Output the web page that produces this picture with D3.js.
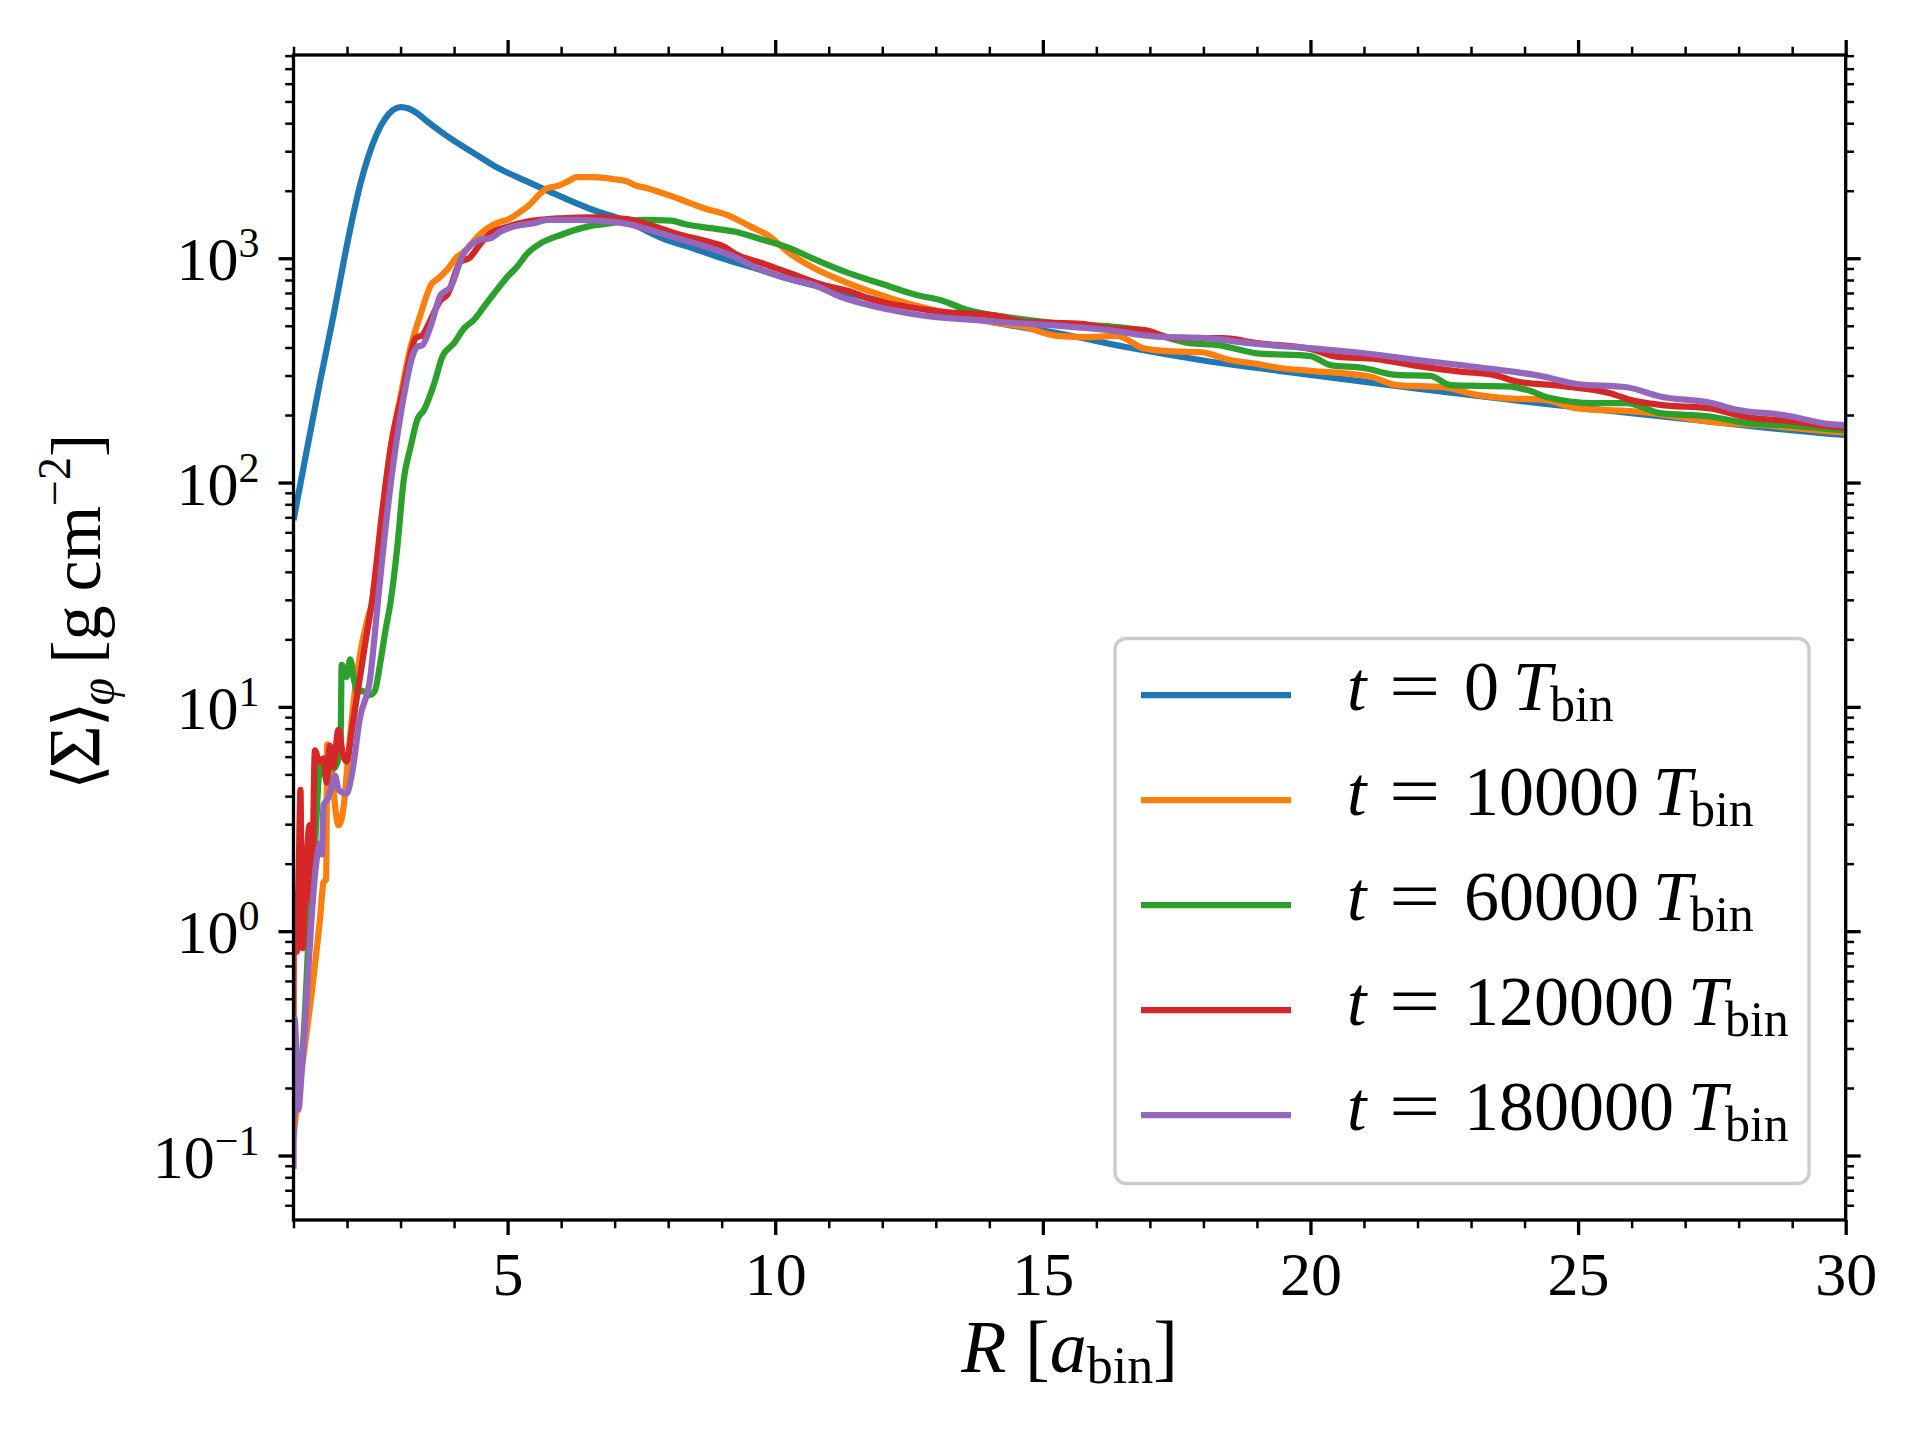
<!DOCTYPE html>
<html><head><meta charset="utf-8">
<script src="https://cdn.jsdelivr.net/npm/d3@7"></script>
<style>
body{margin:0;background:#fff}
text{font-family:"Liberation Serif","DejaVu Serif",serif;white-space:pre;fill:#000}
</style>
</head><body>
<svg id="chart" width="1920" height="1440"></svg>
<script>
// ---------------- data (R in a_bin, <Sigma> in g cm^-2) ----------------
const seriesLabels = ["0", "10000", "60000", "120000", "180000"];
const seriesColors = ["#1f77b4", "#ff7f0e", "#2ca02c", "#d62728", "#9467bd"];

const t0 = [[1.0,68],[1.25,140],[1.5,285],[1.75,560],[1.95,1000],[2.1,1500],[2.25,2150],[2.4,2850],[2.55,3550],[2.7,4150],[2.86,4580],[3.0,4720],[3.15,4650],[3.3,4450],[3.5,4070],[3.8,3600],[4.12,3200],[4.45,2860],[4.75,2580],[5.36,2200],[6.0,1880],[6.6,1640],[7.23,1460],[7.86,1237],[8.5,1100],[9.1,985],[9.7,890],[10.28,805],[11.0,730],[11.8,660],[12.89,589],[14.33,505],[15.26,464],[16.5,404],[18.0,350],[20.0,302],[22.0,262],[24.35,225],[27.0,192],[29.71,165],[30,163]];

const t10000 = [[1.0,0.12],[1.1,0.2],[1.21,0.306],[1.37,0.61],[1.5,1.17],[1.56,1.65],[1.61,1.7],[1.63,6.8],[1.68,6.6],[1.74,4.45],[1.84,2.97],[1.93,3.49],[2.02,5.9],[2.12,10.4],[2.24,17],[2.4,25.5],[2.5,31],[2.66,73],[2.82,145],[3.0,242],[3.16,377],[3.38,569],[3.59,774],[3.67,800],[3.87,887],[4.06,1017],[4.19,1070],[4.47,1270],[4.62,1361],[4.87,1456],[4.99,1482],[5.24,1614],[5.37,1698],[5.62,1950],[5.74,2051],[5.93,2100],[6.12,2197],[6.3,2297],[6.61,2297],[6.99,2250],[7.24,2197],[7.36,2123],[7.61,2051],[8.17,1850],[8.67,1671],[9.1,1560],[9.54,1383],[9.85,1270],[10.3,1040],[10.73,902],[11.21,800],[12.15,663],[13.08,578],[14.01,522],[14.64,495],[15.26,451],[15.88,445],[16.38,451],[16.88,397],[17.44,384],[17.94,381],[18.5,352],[19.0,338],[19.43,324],[20.0,315],[21.11,297],[21.61,272],[22.48,266],[23.11,246],[23.6,238],[24.35,234],[24.98,214],[26.22,206],[27.47,187],[28.71,178],[29.71,169],[30,167]];

const t60000 = [[1.0,0.35],[1.08,0.22],[1.18,0.32],[1.31,1.26],[1.4,2.4],[1.5,5.5],[1.58,5.0],[1.66,6.0],[1.75,5.3],[1.85,6.0],[1.88,7.0],[1.9,15.4],[1.99,13.6],[2.06,16.3],[2.13,13.2],[2.2,11.6],[2.27,11.8],[2.43,11.3],[2.52,11.8],[2.62,15.7],[2.72,22],[2.82,30],[2.94,51.8],[3.06,103],[3.19,145],[3.31,190],[3.44,211],[3.63,277],[3.78,364],[4.0,418],[4.19,488],[4.37,531],[4.56,608],[4.75,698],[5.0,828],[5.18,918],[5.37,1052],[5.62,1167],[5.99,1270],[6.49,1383],[6.93,1432],[7.55,1482],[8.05,1472],[8.3,1422],[8.8,1361],[9.23,1315],[9.73,1216],[10.25,1115],[10.73,990],[11.21,887],[12.15,747],[12.64,686],[13.08,651],[13.58,589],[14.33,546],[15.26,513],[16.32,495],[16.82,479],[17.75,418],[18.25,411],[19.0,377],[20.0,366],[20.37,334],[20.99,324],[21.61,302],[22.24,299],[22.61,272],[23.73,268],[24.04,259],[24.48,238],[25.29,226],[25.91,226],[26.53,204],[27.47,197],[28.09,185],[29.02,179],[29.71,173],[30,171]];

const t120000 = [[1.0,0.4],[1.01,1.45],[1.03,1.43],[1.06,0.81],[1.1,2.0],[1.13,4.27],[1.15,1.5],[1.17,0.84],[1.23,1.75],[1.3,2.97],[1.34,1.32],[1.4,6.4],[1.48,5.7],[1.56,5.9],[1.62,4.6],[1.68,6.7],[1.74,5.4],[1.84,7.9],[1.92,6.2],[1.99,5.7],[2.1,8.2],[2.18,10.9],[2.34,19.2],[2.47,30],[2.66,75],[2.82,145],[3.06,267],[3.19,377],[3.28,440],[3.41,455],[3.56,531],[3.75,651],[3.87,686],[4.12,966],[4.28,1000],[4.5,1167],[4.68,1292],[5.0,1383],[5.37,1456],[5.99,1507],[6.61,1523],[7.24,1493],[7.55,1432],[8.17,1283],[8.8,1174],[9.04,1127],[9.29,1035],[9.73,955],[10.28,857],[10.9,760],[11.4,710],[11.83,651],[12.46,608],[13.08,578],[14.14,553],[14.64,522],[15.76,509],[16.19,488],[16.88,479],[17.44,440],[18.37,440],[19.0,418],[20.0,394],[20.49,364],[21.24,355],[21.99,331],[22.8,312],[23.42,302],[23.86,282],[24.67,270],[25.6,250],[25.97,234],[26.53,222],[27.47,214],[28.09,197],[29.02,187],[29.71,178],[30,176]];

const t180000 = [[1.0,0.087],[1.02,0.41],[1.05,0.3],[1.09,0.16],[1.15,0.23],[1.25,0.52],[1.34,1.17],[1.43,2.06],[1.5,2.47],[1.53,2.2],[1.56,3.63],[1.65,3.94],[1.78,4.92],[1.84,4.28],[1.99,4.1],[2.09,5.0],[2.24,8.9],[2.43,13.3],[2.58,30],[2.75,73],[2.91,145],[3.06,242],[3.22,364],[3.31,403],[3.41,410],[3.56,495],[3.75,686],[3.94,747],[4.15,1017],[4.47,1207],[4.68,1227],[4.87,1315],[5.15,1393],[5.49,1432],[5.74,1482],[6.3,1482],[6.93,1456],[7.24,1422],[7.55,1361],[8.17,1227],[8.8,1109],[9.23,1017],[9.6,918],[10.28,806],[10.73,760],[11.21,674],[12.15,589],[12.89,550],[13.51,535],[14.33,517],[15.26,501],[16.19,479],[17.13,447],[18.06,440],[18.87,418],[20.0,397],[20.93,379],[21.86,355],[23.11,327],[24.35,297],[24.98,275],[25.91,266],[26.53,242],[27.47,227],[27.97,211],[28.84,200],[29.71,182],[30,180]];

const xMajorTicks = [5, 10, 15, 20, 25, 30];
const yMajorTicks = [0.1, 1, 10, 100, 1000];
const yTickExponents = ["\u22121", "0", "1", "2", "3"];
const xDomain = [1, 30];
const yDomain = [0.05158, 8054];

// ---------------- layout ----------------
const series = [t0, t10000, t60000, t120000, t180000];
const L = 293.5, R = 1845.7, T = 55, B = 1220;
const svg = d3.select("#chart");
svg.append("rect").attr("width",1920).attr("height",1440).attr("fill","#fff");

const x = d3.scaleLinear().domain(xDomain).range([L, R]);
const y = d3.scaleLog().domain(yDomain).range([B, T]);

const xMinor = d3.range(1, 31).filter(v => v % 5 !== 0);
const yMinor = [];
for (let e = -2; e <= 3; e++) for (let k = 2; k <= 9; k++) {
  const v = k * Math.pow(10, e);
  if (v >= yDomain[0] && v <= yDomain[1]) yMinor.push(v);
}

function addAxis(gen, tr, vals, size, w) {
  const g = svg.append("g").attr("transform", tr)
    .call(gen.tickValues(vals).tickSize(size).tickFormat(""));
  g.select(".domain").remove();
  g.selectAll("line").attr("stroke", "#000").attr("stroke-width", w);
  return g;
}
const MAJ = 15, MIN = 8.3, MW = 3.3, NW = 2.5;
const gxB = addAxis(d3.axisBottom(x), `translate(0,${B})`, xMajorTicks, MAJ, MW);
addAxis(d3.axisBottom(x), `translate(0,${B})`, xMinor, MIN, NW);
addAxis(d3.axisTop(x), `translate(0,${T})`, xMajorTicks, MAJ, MW);
addAxis(d3.axisTop(x), `translate(0,${T})`, xMinor, MIN, NW);
const gyL = addAxis(d3.axisLeft(y), `translate(${L},0)`, yMajorTicks, MAJ, MW);
addAxis(d3.axisLeft(y), `translate(${L},0)`, yMinor, MIN, NW);
addAxis(d3.axisRight(y), `translate(${R},0)`, yMajorTicks, MAJ, MW);
addAxis(d3.axisRight(y), `translate(${R},0)`, yMinor, MIN, NW);

// x tick labels
gxB.selectAll(".tick").append("text")
  .attr("y", 75).attr("text-anchor", "middle").attr("font-size", 62)
  .text(d => d);

// y tick labels 10^n
gyL.selectAll(".tick").each(function(d, i) {
  const t = d3.select(this).append("text")
    .attr("x", -34).attr("y", 21.7).attr("text-anchor", "end").attr("font-size", 62);
  t.append("tspan").text("10");
  t.append("tspan").attr("font-size", 42).attr("dy", -23).text(yTickExponents[i]);
});

// clip + lines
svg.append("clipPath").attr("id", "clip").append("rect")
  .attr("x", L).attr("y", T).attr("width", R - L).attr("height", B - T);
const line = d3.line().x(d => x(d[0])).y(d => y(d[1])).curve(d3.curveMonotoneX);
const gl = svg.append("g").attr("clip-path", "url(#clip)");
series.forEach((s, i) => {
  gl.append("path").attr("d", line(s)).attr("fill", "none")
    .attr("stroke", seriesColors[i]).attr("stroke-width", 6.25)
    .attr("stroke-linejoin", "round").attr("stroke-linecap", "butt");
});

// spines
svg.append("rect").attr("x", L).attr("y", T).attr("width", R - L).attr("height", B - T)
  .attr("fill", "none").attr("stroke", "#000").attr("stroke-width", 3.3);

// legend
const lg = svg.append("g");
lg.append("rect").attr("x", 1115).attr("y", 638.5).attr("width", 694).attr("height", 545)
  .attr("rx", 11).attr("fill", "#fff").attr("fill-opacity", 0.8)
  .attr("stroke", "#cccccc").attr("stroke-width", 3.3);
seriesLabels.forEach((lab, i) => {
  const cy = 695 + i * 105;
  const by = cy + 15;
  lg.append("line").attr("x1", 1141).attr("x2", 1291).attr("y1", cy).attr("y2", cy)
    .attr("stroke", seriesColors[i]).attr("stroke-width", 6.25);
  lg.append("text").attr("x", 1347).attr("y", by).attr("font-size", 70)
    .attr("font-style", "italic").text("t");
  lg.append("text").attr("transform", `translate(1389,${by}) scale(1.3,1)`)
    .attr("font-size", 70).text("=");
  const t = lg.append("text").attr("x", 1464).attr("y", by).attr("font-size", 70);
  t.append("tspan").text(lab);
  t.append("tspan").attr("dx", 14).attr("font-style", "italic").text("T");
  t.append("tspan").attr("dx", -2).attr("dy", 11).attr("font-size", 50).text("bin");
});

// axis labels
const xl = svg.append("text").attr("x", (L + R) / 2).attr("y", 1372)
  .attr("text-anchor", "middle").attr("font-size", 74);
xl.append("tspan").attr("font-style", "italic").text("R");
xl.append("tspan").text(" [");
xl.append("tspan").attr("font-style", "italic").text("a");
xl.append("tspan").attr("font-size", 52).attr("dy", 11).text("bin");
xl.append("tspan").attr("dy", -11).text("]");

const yl = svg.append("text").attr("transform", `translate(100,790) rotate(-90)`)
  .attr("text-anchor", "start").attr("font-size", 74);
yl.append("tspan").attr("font-size", 66).text("\u27E8");
yl.append("tspan").attr("dx", -4).text("\u03A3");
yl.append("tspan").attr("dx", -2).attr("font-size", 66).text("\u27E9");
yl.append("tspan").attr("dx", -4).attr("font-style", "italic").attr("font-size", 50).attr("dy", 14).text("\u03C6");
yl.append("tspan").attr("dy", -14).attr("dx", 14).attr("font-size", 70).text("[g\u2009cm");
yl.append("tspan").attr("font-size", 46).attr("dy", -30).text("\u22122");
yl.append("tspan").attr("dy", 30).attr("font-size", 70).text("]");
</script>
</body></html>
